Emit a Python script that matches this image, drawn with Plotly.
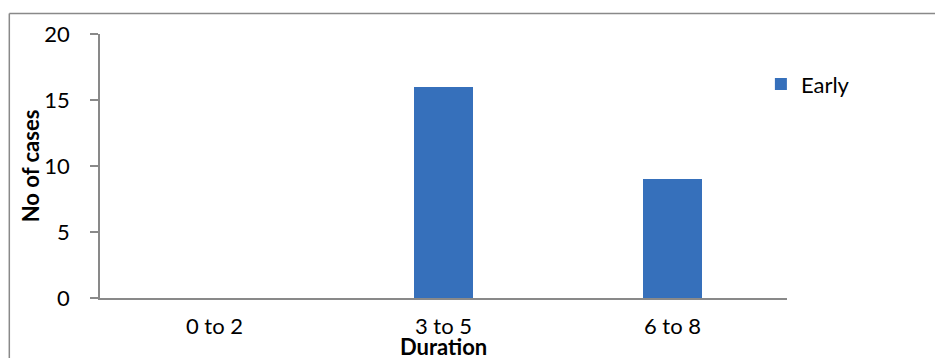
import plotly.graph_objects as go

# Data
durations = ["0 to 2", "3 to 5", "6 to 8"]
early_cases = [0, 16, 9]
y_ticks = [0, 5, 10, 15, 20]

FONT = "Lato, Carlito, 'Open Sans', sans-serif"
AXIS_GREY = "#898989"
FS = 22

fig = go.Figure()
fig.add_trace(go.Bar(
    x=durations,
    y=early_cases,
    name="Early",
    width=0.255,
    marker=dict(color="#3670bb", line=dict(width=0)),
))

fig.update_layout(
    width=935,
    height=358,
    margin=dict(l=100, r=148, t=34, b=60),
    paper_bgcolor="white",
    plot_bgcolor="white",
    font=dict(family=FONT, size=FS, color="#000000"),
    showlegend=True,
    legend=dict(
        x=0.962, y=0.81, xanchor="left", yanchor="middle",
        font=dict(family=FONT, size=FS, color="#000000"),
        bgcolor="rgba(0,0,0,0)",
        itemwidth=30,
    ),
    bargap=0,
)

fig.update_xaxes(
    type="category",
    showline=True, linecolor=AXIS_GREY, linewidth=1.5,
    showgrid=False, ticks="", zeroline=False,
    tickfont=dict(family=FONT, size=FS),
    ticklabelstandoff=8,
)
fig.update_yaxes(
    range=[0, 20],
    tickvals=y_ticks,
    showline=True, linecolor=AXIS_GREY, linewidth=1.5,
    ticks="outside", ticklen=8, tickcolor=AXIS_GREY, tickwidth=1.5,
    showgrid=False, zeroline=False,
    tickfont=dict(family=FONT, size=FS),
    ticklabelstandoff=16,
)

# Axis titles
fig.add_annotation(
    text="<b>No of cases</b>", textangle=-90,
    xref="paper", yref="paper", x=-0.1015, y=0.5,
    xanchor="center", yanchor="middle", showarrow=False,
    font=dict(family=FONT, size=FS),
)
fig.add_annotation(
    text="<b>Duration</b>",
    xref="paper", yref="paper", x=0.5, y=-0.185,
    xanchor="center", yanchor="middle", showarrow=False,
    font=dict(family=FONT, size=FS),
)

# Chart area border (top and left edges)
fig.add_shape(type="line", xref="paper", yref="paper",
              x0=-0.132, x1=1.3, y0=1.078, y1=1.078,
              line=dict(color=AXIS_GREY, width=1.5))
fig.add_shape(type="line", xref="paper", yref="paper",
              x0=-0.132, x1=-0.132, y0=1.078, y1=-0.3,
              line=dict(color=AXIS_GREY, width=1.5))

fig.write_html("out.html")
